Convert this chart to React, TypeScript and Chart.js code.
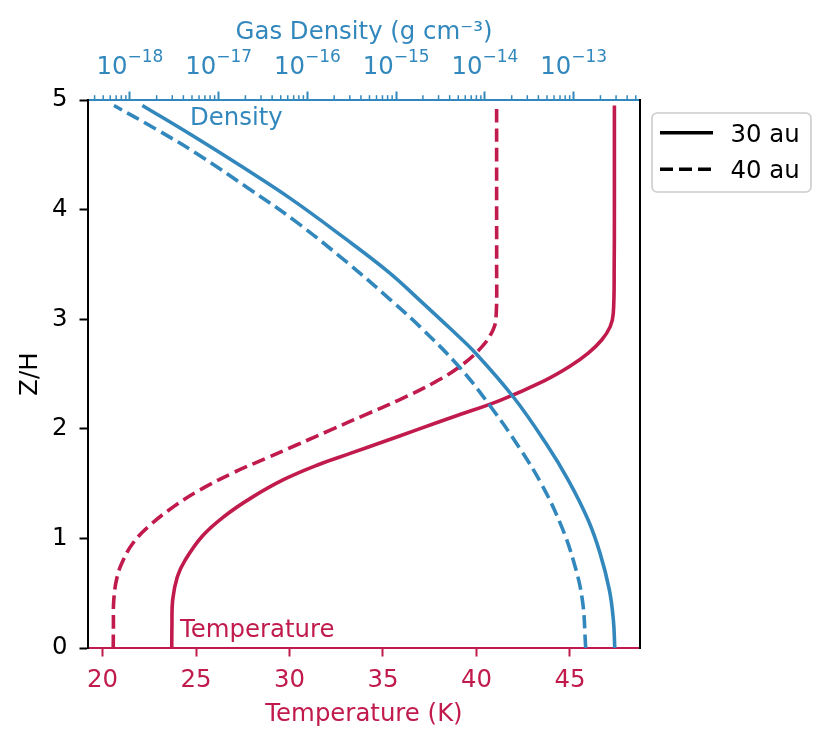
import { useEffect, useRef } from 'react';
import { Chart, registerables } from 'chart.js';

Chart.register(...registerables);

const BLUE = '#3288bd';
const RED = '#c01b4c';
const FONT_FAMILY = 'DejaVu Sans';
const FONT_SIZE = 24.4;
const SUP_SIZE = 17;

// temperature profiles, Z/H vs K
const zTemp30 = [0, 0.2, 0.44, 0.65, 0.8, 1.02, 1.2, 1.37, 1.54, 1.67, 1.78, 1.88, 1.99, 2.11, 2.26, 2.44, 2.57, 2.69, 2.81, 2.93, 3.05, 3.5, 4.0, 4.5, 4.95];
const temp30 = [23.7, 23.71, 23.75, 24.0, 24.41, 25.33, 26.5, 27.95, 29.73, 31.5, 33.32, 34.98, 36.8, 38.78, 41.27, 43.65, 45.0, 45.98, 46.7, 47.15, 47.32, 47.37, 47.38, 47.38, 47.38];
const zTemp40 = [0, 0.2, 0.44, 0.65, 0.8, 0.96, 1.11, 1.29, 1.44, 1.6, 1.73, 1.85, 1.99, 2.13, 2.26, 2.42, 2.57, 2.75, 2.9, 3.02, 3.5, 4.0, 4.5, 4.95];
const temp40 = [20.57, 20.58, 20.6, 20.78, 21.1, 21.64, 22.47, 23.8, 25.18, 27.0, 28.74, 30.34, 32.21, 34.08, 35.82, 37.72, 39.13, 40.3, 40.88, 41.05, 41.08, 41.08, 41.08, 41.08];

// gas density profiles, Z/H vs g cm^-3
const zDens30 = [0, 0.25, 0.53, 0.87, 1.17, 1.53, 1.87, 2.29, 2.69, 2.91, 3.17, 3.43, 3.76, 4.1, 4.39, 4.68, 4.95];
const dens30 = [2.9e-13, 2.8e-13, 2.52e-13, 1.97e-13, 1.45e-13, 8.71e-14, 4.84e-14, 2.09e-14, 7.85e-15, 4.12e-15, 1.86e-15, 8.22e-16, 2.43e-16, 6.46e-17, 1.84e-17, 4.95e-18, 1.38e-18];
const zDens40 = [0, 0.44, 0.8, 1.13, 1.49, 1.83, 2.19, 2.56, 2.93, 3.17, 3.52, 3.89, 4.2, 4.51, 4.74, 4.95];
const dens40 = [1.365e-13, 1.25e-13, 9.89e-14, 7.11e-14, 4.37e-14, 2.43e-14, 1.19e-14, 5.19e-15, 1.86e-15, 8.81e-16, 2.78e-16, 7.41e-17, 2.11e-17, 5.69e-18, 1.91e-18, 6.61e-19];

const tempTicks = [20, 25, 30, 35, 40, 45];
const zTicks = [0, 1, 2, 3, 4, 5];
const densityExponents = [-18, -17, -16, -15, -14, -13];

const tempRange = [19.22, 48.75];
const densityRange = [3.37e-19, 5.58e-13];
const zRange = [0, 5];

// in-plot labels, placed in temperature / Z/H coordinates
const densityNote = { text: 'Density', t: 24.68, z: 4.77 };
const temperatureNote = { text: 'Temperature', t: 24.14, z: 0.1 };

const font = { family: FONT_FAMILY, size: FONT_SIZE, lineHeight: 1.2 };

const extrasPlugin = {
  id: 'extras',
  afterDatasetsDraw(chart: any) {
    const { ctx, chartArea } = chart;
    const top = chart.scales.x2;
    const xs = chart.scales.x;
    const ys = chart.scales.y;

    ctx.save();

    // minor ticks on the log axis
    ctx.strokeStyle = BLUE;
    ctx.lineWidth = 1.5;
    const e0 = Math.floor(Math.log10(densityRange[0]));
    const e1 = Math.ceil(Math.log10(densityRange[1]));
    for (let e = e0; e <= e1; e++) {
      for (let k = 2; k <= 9; k++) {
        const v = k * Math.pow(10, e);
        if (v < densityRange[0] || v > densityRange[1]) continue;
        const px = top.getPixelForValue(v);
        ctx.beginPath();
        ctx.moveTo(px, chartArea.top);
        ctx.lineTo(px, chartArea.top - 4.8);
        ctx.stroke();
      }
    }

    // 10^n labels on the log axis
    ctx.fillStyle = BLUE;
    ctx.textBaseline = 'alphabetic';
    ctx.textAlign = 'left';
    const baseY = chartArea.top - 26;
    for (const e of densityExponents) {
      const px = top.getPixelForValue(Math.pow(10, e));
      const exp = '\u2212' + String(Math.abs(e));
      ctx.font = `${FONT_SIZE}px "${FONT_FAMILY}"`;
      const wBase = ctx.measureText('10').width;
      ctx.font = `${SUP_SIZE}px "${FONT_FAMILY}"`;
      const wExp = ctx.measureText(exp).width;
      const left = px - (wBase + wExp) / 2;
      ctx.font = `${FONT_SIZE}px "${FONT_FAMILY}"`;
      ctx.fillText('10', left, baseY);
      ctx.font = `${SUP_SIZE}px "${FONT_FAMILY}"`;
      ctx.fillText(exp, left + wBase, baseY - 12.5);
    }

    ctx.font = `${FONT_SIZE}px "${FONT_FAMILY}"`;
    ctx.fillStyle = BLUE;
    ctx.fillText(densityNote.text, xs.getPixelForValue(densityNote.t), ys.getPixelForValue(densityNote.z));
    ctx.fillStyle = RED;
    ctx.fillText(temperatureNote.text, xs.getPixelForValue(temperatureNote.t), ys.getPixelForValue(temperatureNote.z));
    ctx.restore();
  },
};

const line = (color: string, dashed: boolean) => ({
  borderColor: color,
  backgroundColor: color,
  borderWidth: 3.6,
  borderDash: dashed ? [13.5, 6] : [],
  pointRadius: 0,
  fill: false,
  tension: 0.4,
});

export default function App() {
  const canvasRef = useRef<HTMLCanvasElement>(null);

  useEffect(() => {
    const canvas = canvasRef.current;
    if (!canvas) return;

    const chart = new Chart(canvas, {
      type: 'line',
      data: {
        datasets: [
          {
            label: 'Density 30 au',
            data: zDens30.map((z, i) => ({ x: dens30[i], y: z })),
            xAxisID: 'x2',
            yAxisID: 'y',
            ...line(BLUE, false),
          },
          {
            label: 'Density 40 au',
            data: zDens40.map((z, i) => ({ x: dens40[i], y: z })),
            xAxisID: 'x2',
            yAxisID: 'y',
            ...line(BLUE, true),
          },
          {
            label: 'Temperature 30 au',
            data: zTemp30.map((z, i) => ({ x: temp30[i], y: z })),
            xAxisID: 'x',
            yAxisID: 'y',
            ...line(RED, false),
          },
          {
            label: 'Temperature 40 au',
            data: zTemp40.map((z, i) => ({ x: temp40[i], y: z })),
            xAxisID: 'x',
            yAxisID: 'y',
            ...line(RED, true),
          },
        ],
      },
      options: {
        animation: false,
        responsive: false,
        indexAxis: 'y',
        layout: { padding: 0 },
        plugins: {
          legend: { display: false },
          tooltip: { enabled: false },
        },
        scales: {
          x: {
            type: 'linear',
            position: 'bottom',
            min: tempRange[0],
            max: tempRange[1],
            bounds: 'data',
            afterFit: (s: any) => { s.height = 97; },
            afterBuildTicks: (s: any) => { s.ticks = tempTicks.map(v => ({ value: v })); },
            grid: { drawOnChartArea: false, tickLength: 8.5, tickWidth: 2, tickColor: RED, color: RED },
            border: { color: RED, width: 2 },
            ticks: { color: RED, padding: 9.5, font, maxRotation: 0, autoSkip: false },
            title: { display: true, text: 'Temperature (K)', color: RED, font, padding: { top: 0, bottom: 16 } },
          },
          x2: {
            type: 'logarithmic',
            position: 'top',
            min: densityRange[0],
            max: densityRange[1],
            bounds: 'data',
            afterFit: (s: any) => { s.height = 100; },
            afterBuildTicks: (s: any) => { s.ticks = densityExponents.map(e => ({ value: Math.pow(10, e) })); },
            grid: { drawOnChartArea: false, tickLength: 8.5, tickWidth: 2, tickColor: BLUE, color: BLUE },
            border: { color: BLUE, width: 2 },
            // labels are drawn as 10 + raised exponent by the extras plugin
            ticks: { color: BLUE, padding: 9.5, font, maxRotation: 0, autoSkip: false, callback: () => '' },
            title: { display: true, text: 'Gas Density (g cm⁻³)', color: BLUE, font, padding: { top: 18, bottom: 0 } },
          },
          y: {
            type: 'linear',
            position: 'left',
            min: zRange[0],
            max: zRange[1],
            bounds: 'data',
            afterFit: (s: any) => { s.width = 88; },
            afterBuildTicks: (s: any) => { s.ticks = zTicks.map(v => ({ value: v })); },
            grid: { drawOnChartArea: false, tickLength: 8.5, tickWidth: 2, tickColor: '#000', color: '#000' },
            border: { color: '#000', width: 2 },
            ticks: { color: '#000', padding: 12, font },
            title: { display: true, text: 'Z/H', color: '#000', font, padding: { top: 16, bottom: 0 } },
          },
          yR: {
            type: 'linear',
            position: 'right',
            min: zRange[0],
            max: zRange[1],
            afterFit: (s: any) => { s.width = 189; },
            grid: { drawOnChartArea: false, drawTicks: false },
            border: { display: true, color: '#000', width: 2 },
            ticks: { display: false },
          },
        },
      } as any,
      plugins: [extrasPlugin],
    });

    return () => chart.destroy();
  }, []);

  return (
    <div style={{ position: 'absolute', left: 0, top: 0, width: 829, height: 745, background: '#fff' }}>
      <canvas ref={canvasRef} width={829} height={745} />
      <svg
        width={161}
        height={81}
        style={{ position: 'absolute', left: 651, top: 112 }}
      >
        <rect x={1} y={1} width={159} height={79} rx={5} ry={5} fill="rgba(255,255,255,0.8)" stroke="#cccccc" strokeWidth={1.6} />
        <line x1={9} y1={20.7} x2={62} y2={20.7} stroke="#000" strokeWidth={3.6} />
        <text x={79.5} y={29.7} fontFamily={FONT_FAMILY} fontSize={FONT_SIZE} fill="#000">30 au</text>
        <line x1={9} y1={57.3} x2={62} y2={57.3} stroke="#000" strokeWidth={3.6} strokeDasharray="13 6" />
        <text x={79.5} y={65.7} fontFamily={FONT_FAMILY} fontSize={FONT_SIZE} fill="#000">40 au</text>
      </svg>
    </div>
  );
}
